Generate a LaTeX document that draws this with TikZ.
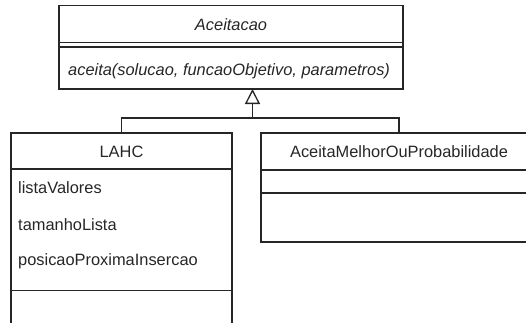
\documentclass[tikz,border=0pt]{standalone}
\usepackage{fontspec}
\setmainfont{Liberation Sans}
\usetikzlibrary{arrows.meta,calc}
\begin{document}
\begin{tikzpicture}[x=1pt,y=-1pt,
  umlbox/.style={draw=black!85, line width=1.3pt, rectangle, inner sep=0pt, outer sep=0pt, anchor=north west},
  part/.style={draw=black!85, line width=1.3pt},
  lbl/.style={font=\fontsize{16.4}{19}\selectfont, text=black!85, inner sep=0pt},
  attr/.style={lbl, anchor=west},
  inherit/.style={draw=black!85, line width=1.3pt, -{Triangle[open, length=15pt, width=15pt]}}
]
\useasboundingbox (0,0) rectangle (526,322);
\clip (0,0) rectangle (526,322);

% abstract class
\node[umlbox, minimum width=344pt, minimum height=83.5pt] (aceitacao) at (59,5.5) {};
\node[lbl, font=\fontsize{16.4}{19}\selectfont\itshape] (aceitacaoName) at (231,25) {Aceitacao};
\draw[part] ($(aceitacao.north west)+(0,37)$) -- ($(aceitacao.north east)+(0,37)$);
\draw[part] ($(aceitacao.north west)+(0,41.5)$) -- ($(aceitacao.north east)+(0,41.5)$);
\node[attr, font=\fontsize{16.4}{19}\selectfont\itshape] (aceitaOp) at (68,71.5) {aceita(solucao, funcaoObjetivo, parametros)};

% LAHC
\node[umlbox, minimum width=221pt, minimum height=220pt] (lahc) at (11,133) {};
\node[lbl] (lahcName) at (121.5,151.5) {LAHC};
\draw[part] ($(lahc.north west)+(0,36)$) -- ($(lahc.north east)+(0,36)$);
\node[attr] (attrA) at (18,188) {listaValores};
\node[attr] (attrB) at (18,225) {tamanhoLista};
\node[attr] (attrC) at (18,261.5) {posicaoProximaInsercao};
\draw[part] ($(lahc.north west)+(0,157.5)$) -- ($(lahc.north east)+(0,157.5)$);

% AceitaMelhorOuProbabilidade
\node[umlbox, minimum width=276pt, minimum height=109pt] (amop) at (261,133) {};
\node[lbl] (amopName) at (399,152) {AceitaMelhorOuProbabilidade};
\draw[part] ($(amop.north west)+(0,37)$) -- ($(amop.north east)+(0,37)$);
\draw[part] ($(amop.north west)+(0,60)$) -- ($(amop.north east)+(0,60)$);

% generalisation
\coordinate (apex) at (252.5,89);
\coordinate (bus) at (252.5,118);
\draw[part] (amop.north) |- (bus);
\draw[inherit] (lahc.north) |- (bus) -- (apex);
\end{tikzpicture}
\end{document}
